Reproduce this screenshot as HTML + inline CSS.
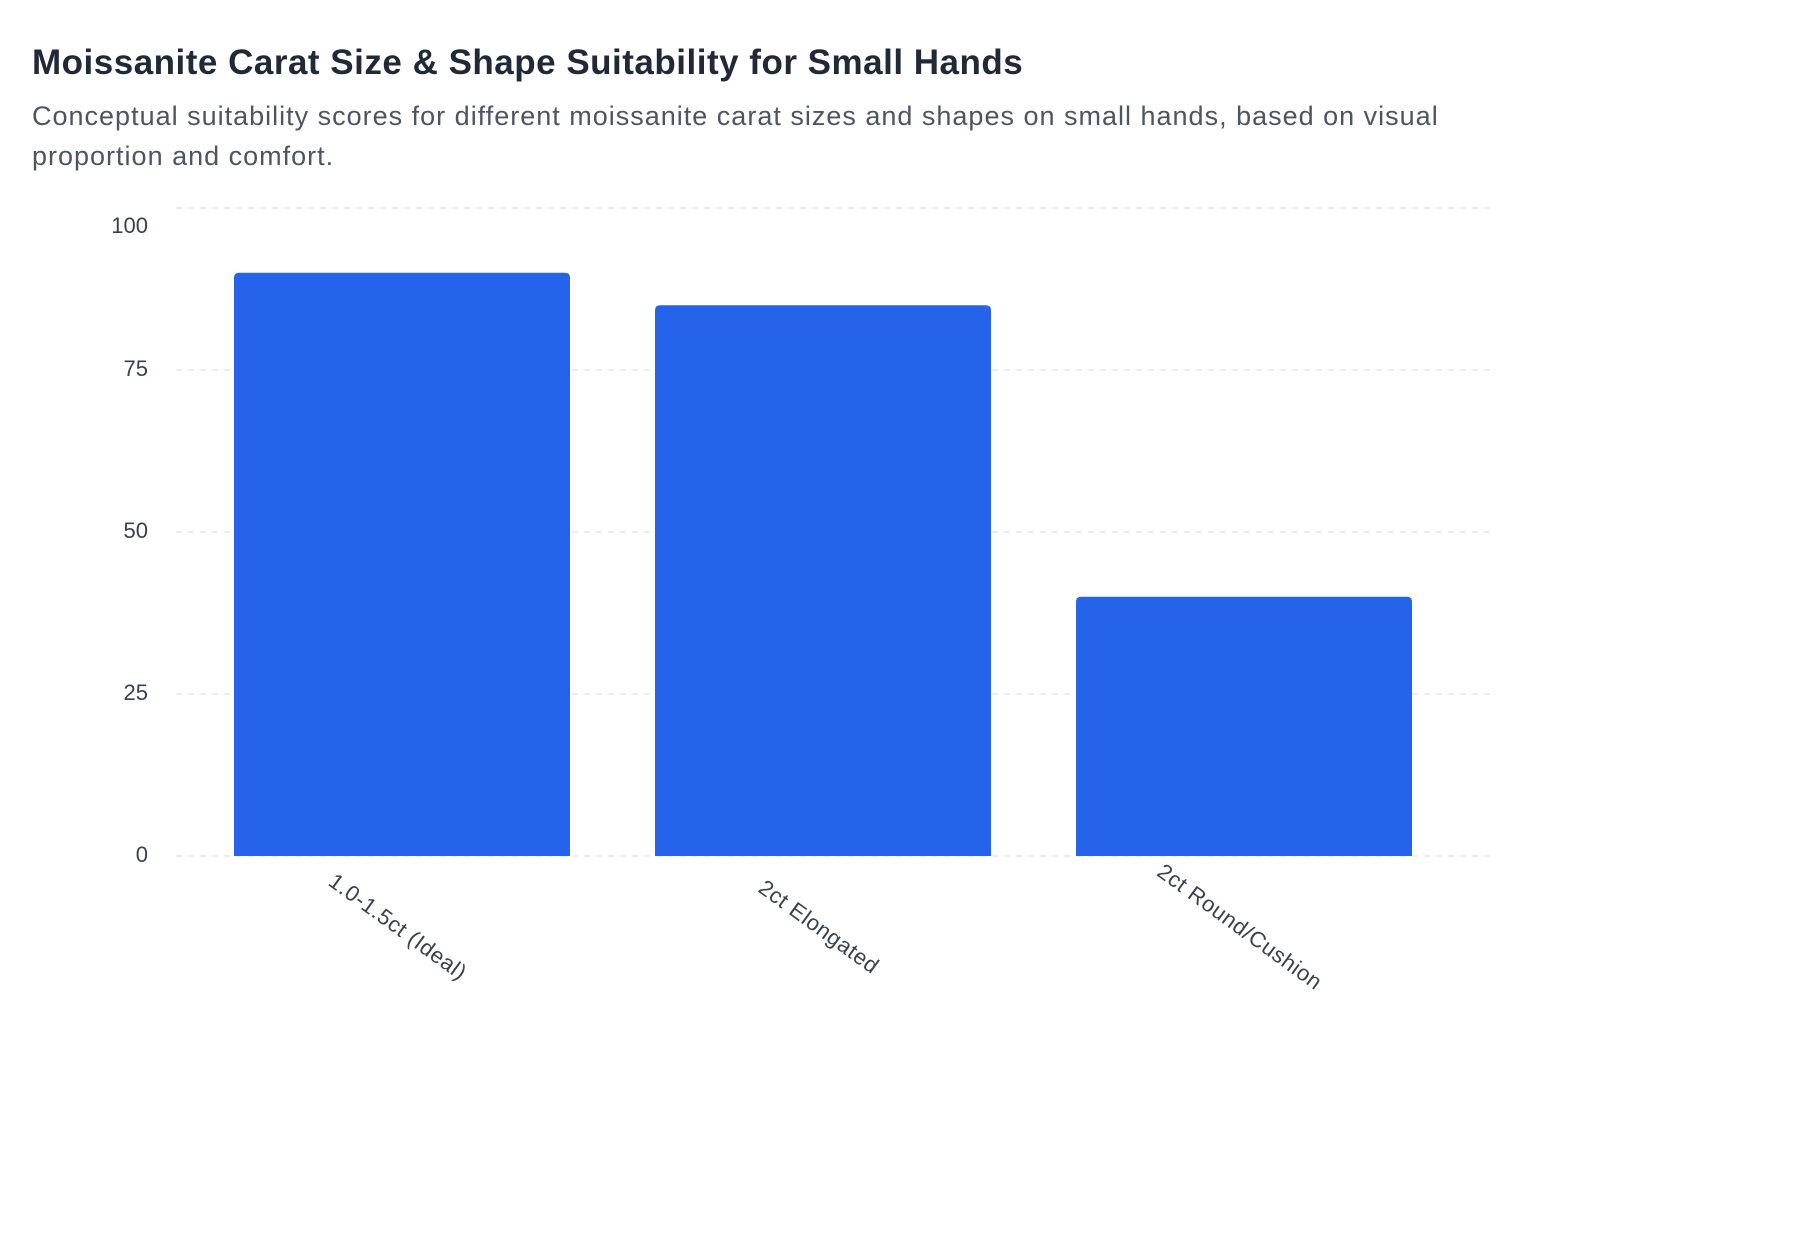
<!DOCTYPE html>
<html><head><meta charset="utf-8"><style>
html,body{margin:0;padding:0;background:#fff;width:1800px;height:1248px;overflow:hidden;font-family:"Liberation Sans",sans-serif}
h1{position:absolute;left:32px;top:43px;margin:0;font-size:35px;font-weight:bold;color:#1f2937;letter-spacing:0.5px}
p{position:absolute;left:32px;top:96px;margin:0;width:1480px;font-size:27px;line-height:40px;color:#4b5563;letter-spacing:1.0px}
svg{position:absolute;left:0;top:0}
</style></head><body>
<h1>Moissanite Carat Size &amp; Shape Suitability for Small Hands</h1>
<p>Conceptual suitability scores for different moissanite carat sizes and shapes on small hands, based on visual<br>proportion and comfort.</p>
<svg id="chart" width="1800" height="1248"></svg>
<script>
const categories = ["1.0-1.5ct (Ideal)", "2ct Elongated", "2ct Round/Cushion"];
const scores = [90, 85, 40];
const yTicks = [0, 25, 50, 75, 100];
const NS = "http://www.w3.org/2000/svg";
const svg = document.getElementById("chart");
const GX0 = 176, GX1 = 1492, Y0 = 856, Y1 = 208;
const BX0 = 191.5, band = 421;
const yScale = v => Y0 - (v / 100) * (Y0 - Y1);
const bw = 336;
const xCenter = i => BX0 + band * (i + 0.5);
function mk(tag, attrs){const e=document.createElementNS(NS,tag);for(const k in attrs)e.setAttribute(k,attrs[k]);svg.appendChild(e);return e;}
yTicks.forEach(t=>{
  const g = mk("line",{x1:GX0,x2:GX1,y1:yScale(t),y2:yScale(t),stroke:"#e5e7eb","stroke-width":1.5,"stroke-dasharray":"6 6"});
  
  
  const l = mk("text",{x:148,y:yScale(t)+(t===100?19:0),"text-anchor":"end","dominant-baseline":"middle","font-size":22,fill:"#374151","font-family":"Liberation Sans, sans-serif"});
  l.textContent = t;
  
  
});
categories.forEach((c,i)=>{
  const x = xCenter(i) - bw/2, y = yScale(scores[i]), r = 5;
  const b = mk("path",{d:`M${x},${Y0}V${y+r}Q${x},${y} ${x+r},${y}H${x+bw-r}Q${x+bw},${y} ${x+bw},${y+r}V${Y0}Z`,fill:"#2563eb"});
  
  
  const cx = xCenter(i) - 5, cy = 928;
  const t = mk("text",{x:cx,y:cy,"text-anchor":"middle","dominant-baseline":"middle","font-size":22,"letter-spacing":"0.6",fill:"#374151","font-family":"Liberation Sans, sans-serif",transform:`rotate(36 ${cx} ${cy})`});
  t.textContent = c;
  
  
});
</script>
</body></html>
